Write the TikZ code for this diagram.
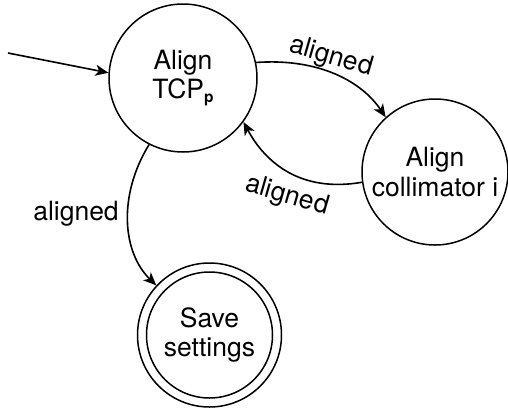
\documentclass[tikz,border=0pt]{standalone}
\usepackage{fontspec}
\setmainfont{TeX Gyre Heros}
\usetikzlibrary{arrows.meta}
\tikzset{
  state/.style={circle, draw, line width=1.5pt, inner sep=0pt, align=center,
    font=\fontsize{26.5}{29.5}\selectfont},
  lbl/.style={inner sep=0pt, font=\fontsize{26.5}{29.5}\selectfont},
  edge/.style={line width=1.6pt, -{Stealth[length=13pt,width=11pt,inset=3.5pt]}}
}
\begin{document}
\begin{tikzpicture}[x=1pt,y=-1pt]
\useasboundingbox (0,0) rectangle (508,413);

% states
\node[state, minimum size=148pt] (tcp) at (183,78) {Align\\TCP\raisebox{-4pt}{\fontsize{15.5}{15.5}\selectfont\bfseries p}};
\node[state, minimum size=146pt] (col) at (435,172) {Align\\collimator i};
\node[state, minimum size=144pt] (save) at (209.5,335) {Save\\settings};
\draw[line width=1.5pt] (save.center) circle[radius=63pt];

% initial arrow
\coordinate (start) at (8,53);
\draw[edge] (start) -- (tcp.176);

% transitions
\draw[edge] (tcp.12.5) .. controls (320,58) and (362,82) .. (col.132);
\draw[edge] (col.188) .. controls (300,193) and (265,162) .. (tcp.-36);
\draw[edge] (tcp.-117) .. controls (118,195) and (122,252) .. (save.137);

% transition labels
\node[lbl, rotate=-16] (l1) at (331,57) {aligned};
\node[lbl, rotate=-16] (l2) at (287,196) {aligned};
\node[lbl] (l3) at (76,214) {aligned};
\end{tikzpicture}
\end{document}
